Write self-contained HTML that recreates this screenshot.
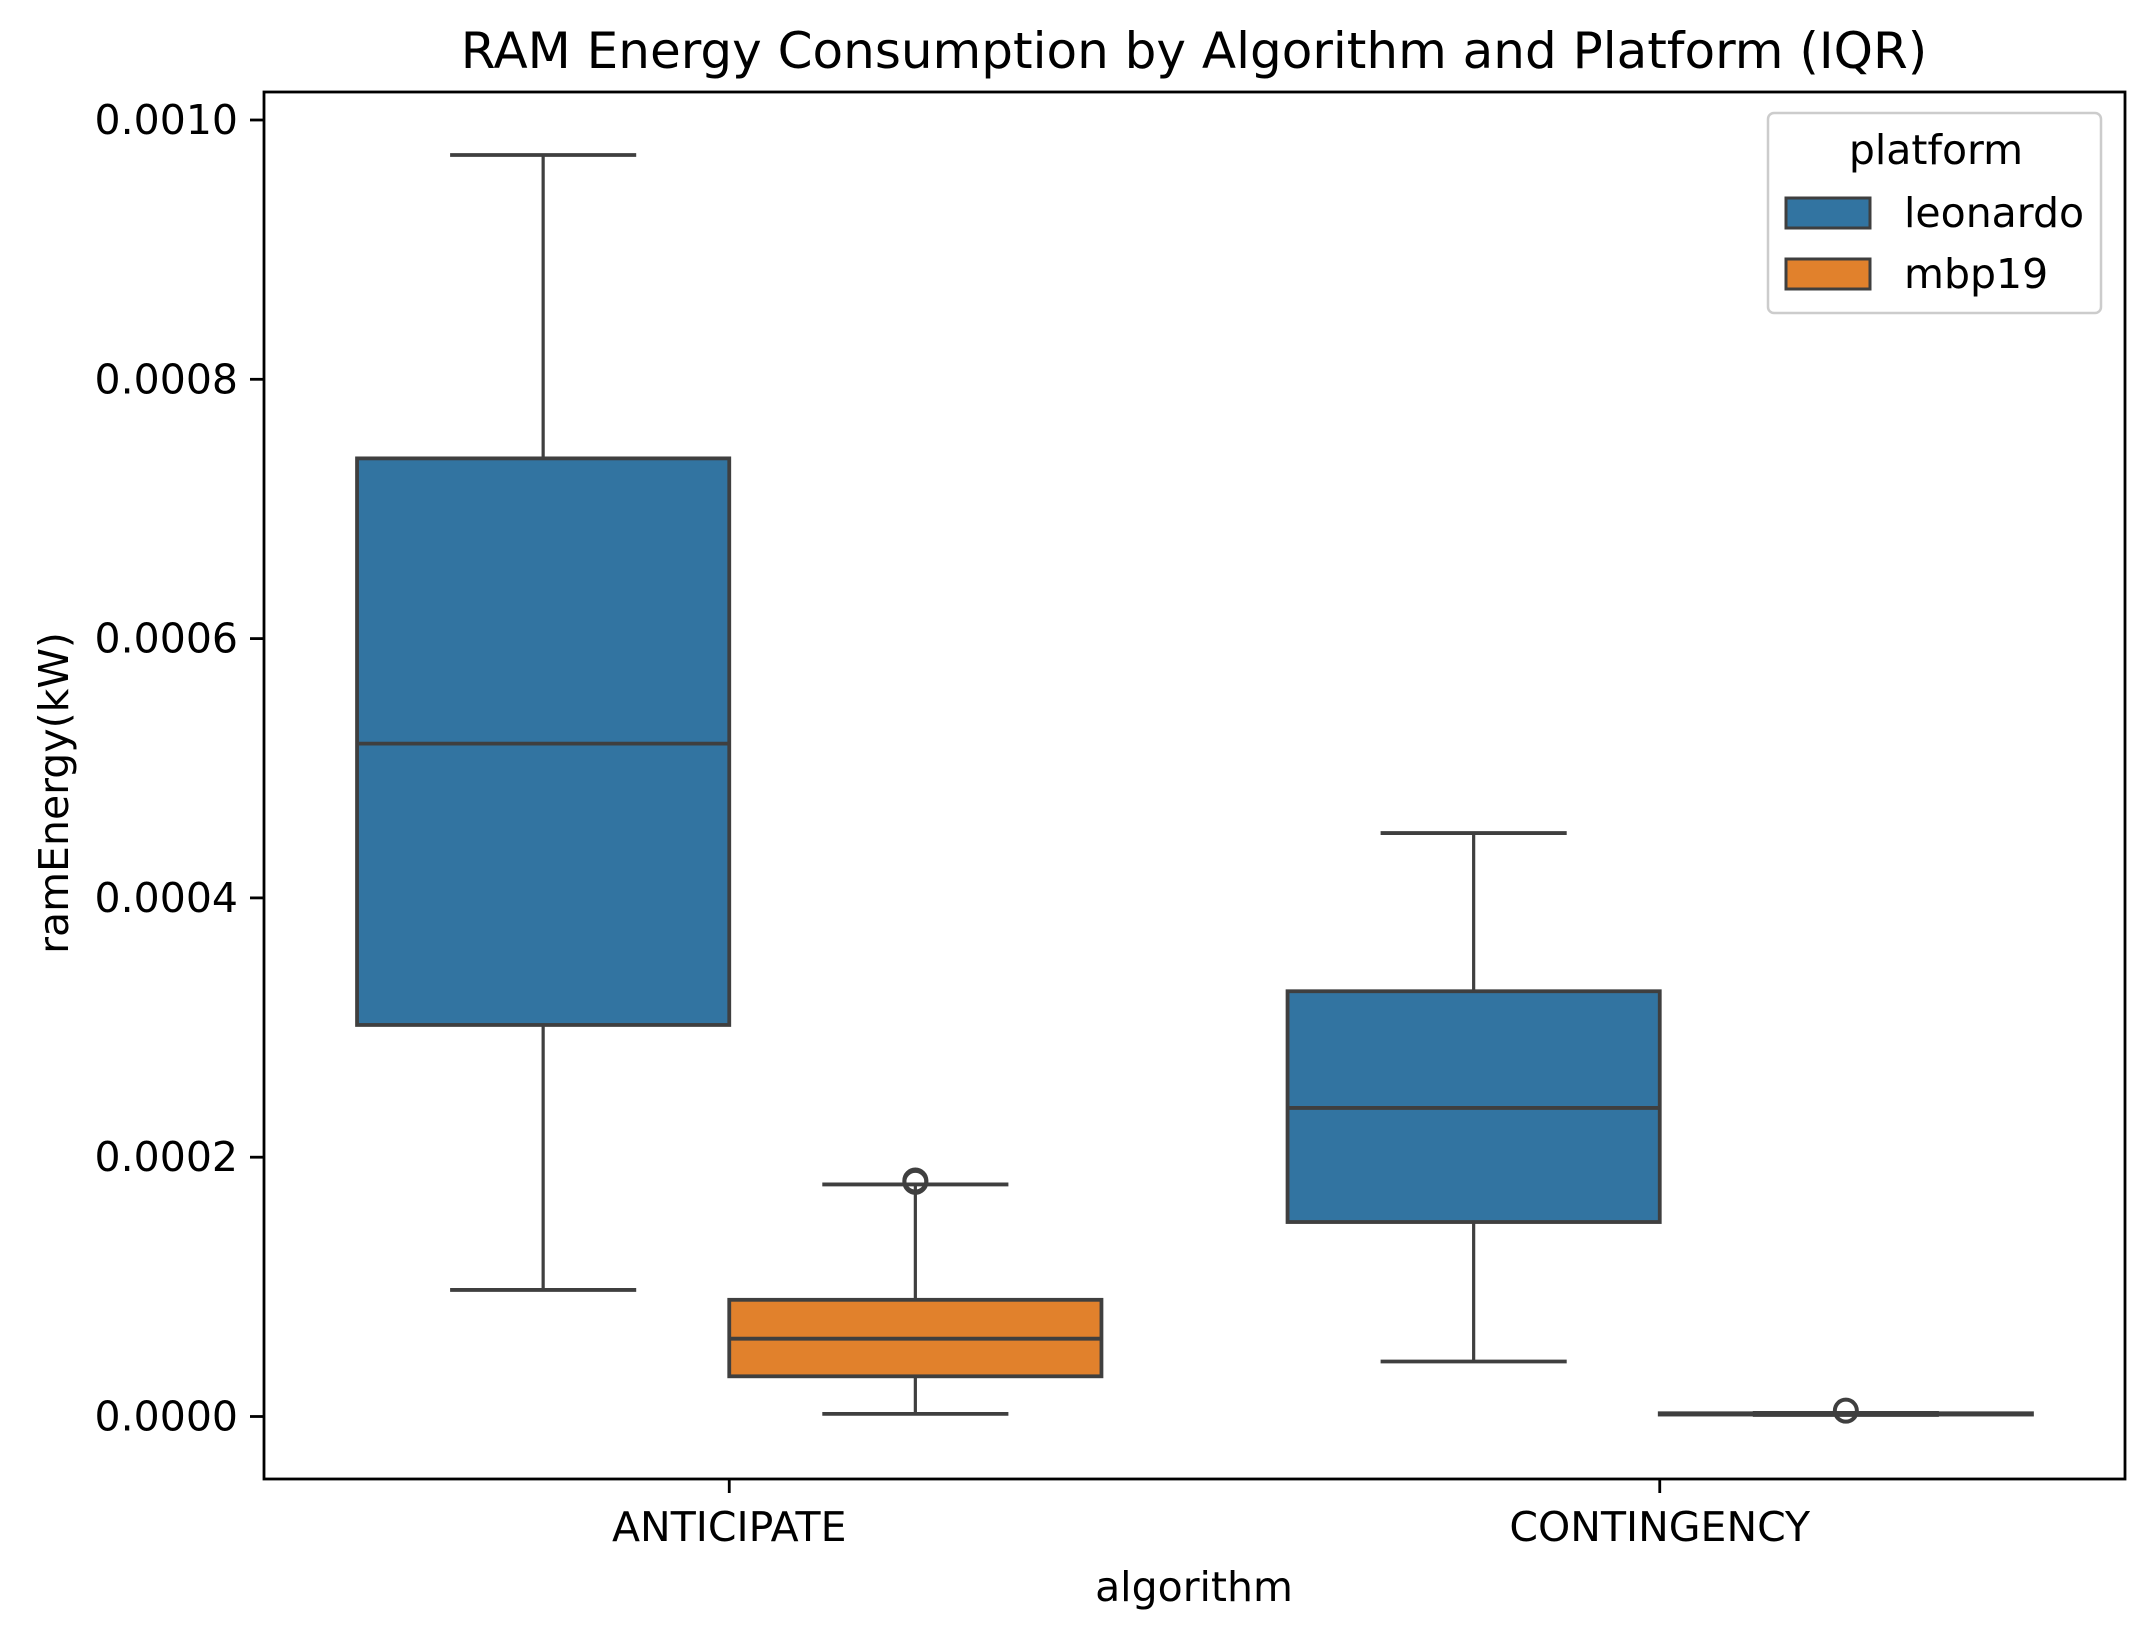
<!DOCTYPE html>
<html><head><meta charset="utf-8"><style>body{margin:0;background:#fff}svg{display:block;font-family:"DejaVu Sans","Liberation Sans",sans-serif}</style></head>
<body>
<svg id="chart" width="2153" height="1638" viewBox="0 0 2153 1638">
<rect width="2153" height="1638" fill="#fff"/>
<text x="1194" y="68" font-size="50" text-anchor="middle">RAM Energy Consumption by Algorithm and Platform (IQR)</text>
<g id="marks"></g>
<rect x="264" y="92" width="1861" height="1387" fill="none" stroke="#000" stroke-width="2.8"/>
<g id="axes"></g>
<text x="1194" y="1601" font-size="41" text-anchor="middle">algorithm</text>
<text transform="translate(68,793) rotate(-90)" font-size="41" text-anchor="middle">ramEnergy(kW)</text>
<g>
<rect x="1768" y="113" width="333" height="200" rx="6" fill="#fff" stroke="#ccc" stroke-width="2.5"/>
<text x="1936" y="164" font-size="41" text-anchor="middle">platform</text>
<rect x="1786" y="198" width="84" height="30" fill="#3274a1" stroke="#3f3f3f" stroke-width="3"/>
<text x="1904" y="227" font-size="41">leonardo</text>
<rect x="1786" y="259" width="84" height="30" fill="#e1812c" stroke="#3f3f3f" stroke-width="3"/>
<text x="1904" y="288" font-size="41">mbp19</text>
</g>
</svg>
<script>
const categories = ["ANTICIPATE", "CONTINGENCY"];
const platforms = ["leonardo", "mbp19"];
const colors = ["#3274a1", "#e1812c"];
const whiskerLow = [[0.0000976, 0.0000424], [0.000002, 0.0000012]];
const q1 = [[0.000302, 0.00015], [0.000031, 0.0000015]];
const median = [[0.000519, 0.000238], [0.00006, 0.000002]];
const q3 = [[0.000739, 0.000328], [0.00009, 0.0000025]];
const whiskerHigh = [[0.000973, 0.00045], [0.000179, 0.0000028]];
const outliers = [[[], []], [[0.000182, 0.000181], [0.0000045]]];
const yTicks = [0, 0.0002, 0.0004, 0.0006, 0.0008, 0.0010];
const yTickLabels = ["0.0000", "0.0002", "0.0004", "0.0006", "0.0008", "0.0010"];

const NS = "http://www.w3.org/2000/svg";
const axL = 264, axR = 2125, axT = 92, axB = 1479;
const y0px = 1416.5, pxPer = 259.3 / 0.0002;
function yScale(v) { return y0px - v * pxPer; }
const catW = (axR - axL) / categories.length;
function xCat(i) { return axL + catW * (i + 0.5); }
function xBox(i, p) { return xCat(i) + (p - 0.5) * 0.4 * catW; }
function mk(tag, attrs, parent) {
  const e = document.createElementNS(NS, tag);
  for (const k in attrs) e.setAttribute(k, attrs[k]);
  parent.appendChild(e);
  return e;
}
const marks = document.getElementById("marks");
const axes = document.getElementById("axes");
const bw = 0.4 * catW, cap = bw / 2, lc = "#3f3f3f";
platforms.forEach((pf, p) => {
  categories.forEach((c, i) => {
    const cx = xBox(i, p);
    const g = mk("g", {}, marks);
    
    
    mk("line", {x1: cx, x2: cx, y1: yScale(whiskerHigh[p][i]), y2: yScale(q3[p][i]), stroke: lc, "stroke-width": 3.2}, g);
    mk("line", {x1: cx, x2: cx, y1: yScale(q1[p][i]), y2: yScale(whiskerLow[p][i]), stroke: lc, "stroke-width": 3.2}, g);
    mk("line", {x1: cx - cap/2, x2: cx + cap/2, y1: yScale(whiskerHigh[p][i]), y2: yScale(whiskerHigh[p][i]), stroke: lc, "stroke-width": 3.8}, g);
    mk("line", {x1: cx - cap/2, x2: cx + cap/2, y1: yScale(whiskerLow[p][i]), y2: yScale(whiskerLow[p][i]), stroke: lc, "stroke-width": 3.8}, g);
    const top = yScale(q3[p][i]), bot = yScale(q1[p][i]);
    mk("rect", {x: cx - bw/2, y: top, width: bw, height: Math.max(bot - top, 0.5), fill: colors[p], stroke: lc, "stroke-width": 3.8}, g);
    mk("line", {x1: cx - bw/2, x2: cx + bw/2, y1: yScale(median[p][i]), y2: yScale(median[p][i]), stroke: lc, "stroke-width": 3.8}, g);
    outliers[p][i].forEach(v => {
      const o = mk("circle", {cx: cx, cy: yScale(v), r: 11, fill: "none", stroke: lc, "stroke-width": 4}, g);
      
      
    });
  });
});
yTicks.forEach((v, k) => {
  const y = yScale(v);
  const t = mk("line", {x1: axL - 14, x2: axL, y1: y, y2: y, stroke: "#000", "stroke-width": 2.8}, axes);
  
  
  const l = mk("text", {x: axL - 26, y: y + 14, "font-size": 41, "text-anchor": "end"}, axes);
  l.textContent = yTickLabels[k];
  
  
});
categories.forEach((c, i) => {
  const x = xCat(i);
  const t = mk("line", {x1: x, x2: x, y1: axB, y2: axB + 14, stroke: "#000", "stroke-width": 2.8}, axes);
  
  
  const l = mk("text", {x: x, y: 1541, "font-size": 41, "text-anchor": "middle"}, axes);
  l.textContent = c;
  
  
});
</script>
</body></html>
